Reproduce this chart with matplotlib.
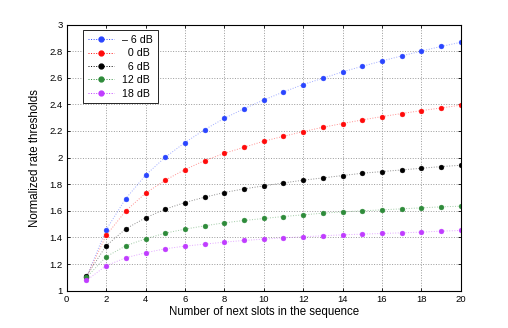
import matplotlib
matplotlib.use("Agg")
import matplotlib.pyplot as plt
from matplotlib.lines import Line2D

plt.rcParams['font.family'] = ['Liberation Sans', 'DejaVu Sans']

x = list(range(1, 21))
labels = ['– 6 dB', '\u20070 dB', '\u20076 dB', '12 dB', '18 dB']
colors = ['#2a45ff', '#ff0a0a', '#000000', '#2e8b3a', '#c03cff']

s_m6 = [1.10, 1.4575, 1.6925, 1.8675, 2.003, 2.1125, 2.21, 2.295, 2.3675, 2.433,
        2.493, 2.549, 2.596, 2.644, 2.686, 2.726, 2.764, 2.80, 2.835, 2.866]
s_0 = [1.10, 1.415, 1.60, 1.7325, 1.83, 1.91, 1.9775, 2.032, 2.0775, 2.123,
       2.160, 2.195, 2.228, 2.256, 2.283, 2.308, 2.331, 2.353, 2.373, 2.394]
s_6 = [1.11, 1.3375, 1.465, 1.5475, 1.6125, 1.6625, 1.7025, 1.7375, 1.765, 1.7875,
       1.81, 1.83, 1.8475, 1.865, 1.8825, 1.895, 1.9075, 1.92, 1.9325, 1.9425]
s_12 = [1.10, 1.255, 1.3375, 1.39, 1.4325, 1.4625, 1.4875, 1.51, 1.5275, 1.5425,
        1.5575, 1.57, 1.5825, 1.5925, 1.60, 1.6075, 1.615, 1.6225, 1.63, 1.635]
s_18 = [1.077, 1.1875, 1.2475, 1.285, 1.315, 1.335, 1.35, 1.365, 1.3775, 1.3875,
        1.3975, 1.405, 1.4125, 1.42, 1.425, 1.43, 1.435, 1.44, 1.4475, 1.4525]
series = [s_m6, s_0, s_6, s_12, s_18]

xticks = list(range(0, 21, 2))
yticks = [1, 1.2, 1.4, 1.6, 1.8, 2, 2.2, 2.4, 2.6, 2.8, 3]
ytick_labels = ['1', '1.2', '1.4', '1.6', '1.8', '2', '2.2', '2.4', '2.6', '2.8', '3']

fig = plt.figure(figsize=(5.08, 3.28), dpi=100)
ax = fig.add_axes([0.1313, 0.1137, 0.7756, 0.8116])

for ys, c in zip(series, colors):
    ax.plot(x, ys, linestyle=':', linewidth=0.7, color=c, alpha=0.45)
    ax.plot(x, ys, linestyle='none', marker='o', markersize=3.5,
            markerfacecolor=c, markeredgecolor=c, markeredgewidth=0.3)

handles = [Line2D([], [], linestyle=':', linewidth=0.7, color=c, marker='o',
                  markersize=3.5, markerfacecolor=c, markeredgecolor=c)
           for c in colors]

ax.set_xlim(0, 20)
ax.set_ylim(1, 3)
ax.set_xticks(xticks)
ax.set_yticks(yticks)
ax.set_yticklabels(ytick_labels)
ax.tick_params(direction='in', top=True, right=True, labelsize=6.8,
               length=2.5, width=0.6, pad=3)
ax.grid(True, linestyle=':', color='#9a9a9a', linewidth=0.7)
for sp in ax.spines.values():
    sp.set_linewidth(0.8)
ax.set_xlabel('Number of next slots in the sequence', fontsize=8.3, labelpad=1.5)
ax.set_ylabel('Normalized rate thresholds', fontsize=8.3, labelpad=6)

leg = ax.legend(handles, labels, loc='upper left', bbox_to_anchor=(0.041, 0.979),
                borderaxespad=0, fontsize=7.7, frameon=True, fancybox=False,
                edgecolor='black', framealpha=1, handlelength=2.5,
                handletextpad=0.75, labelspacing=0.32, borderpad=0.45)
leg.get_frame().set_linewidth(0.6)

fig.savefig('out.png', dpi=100)
